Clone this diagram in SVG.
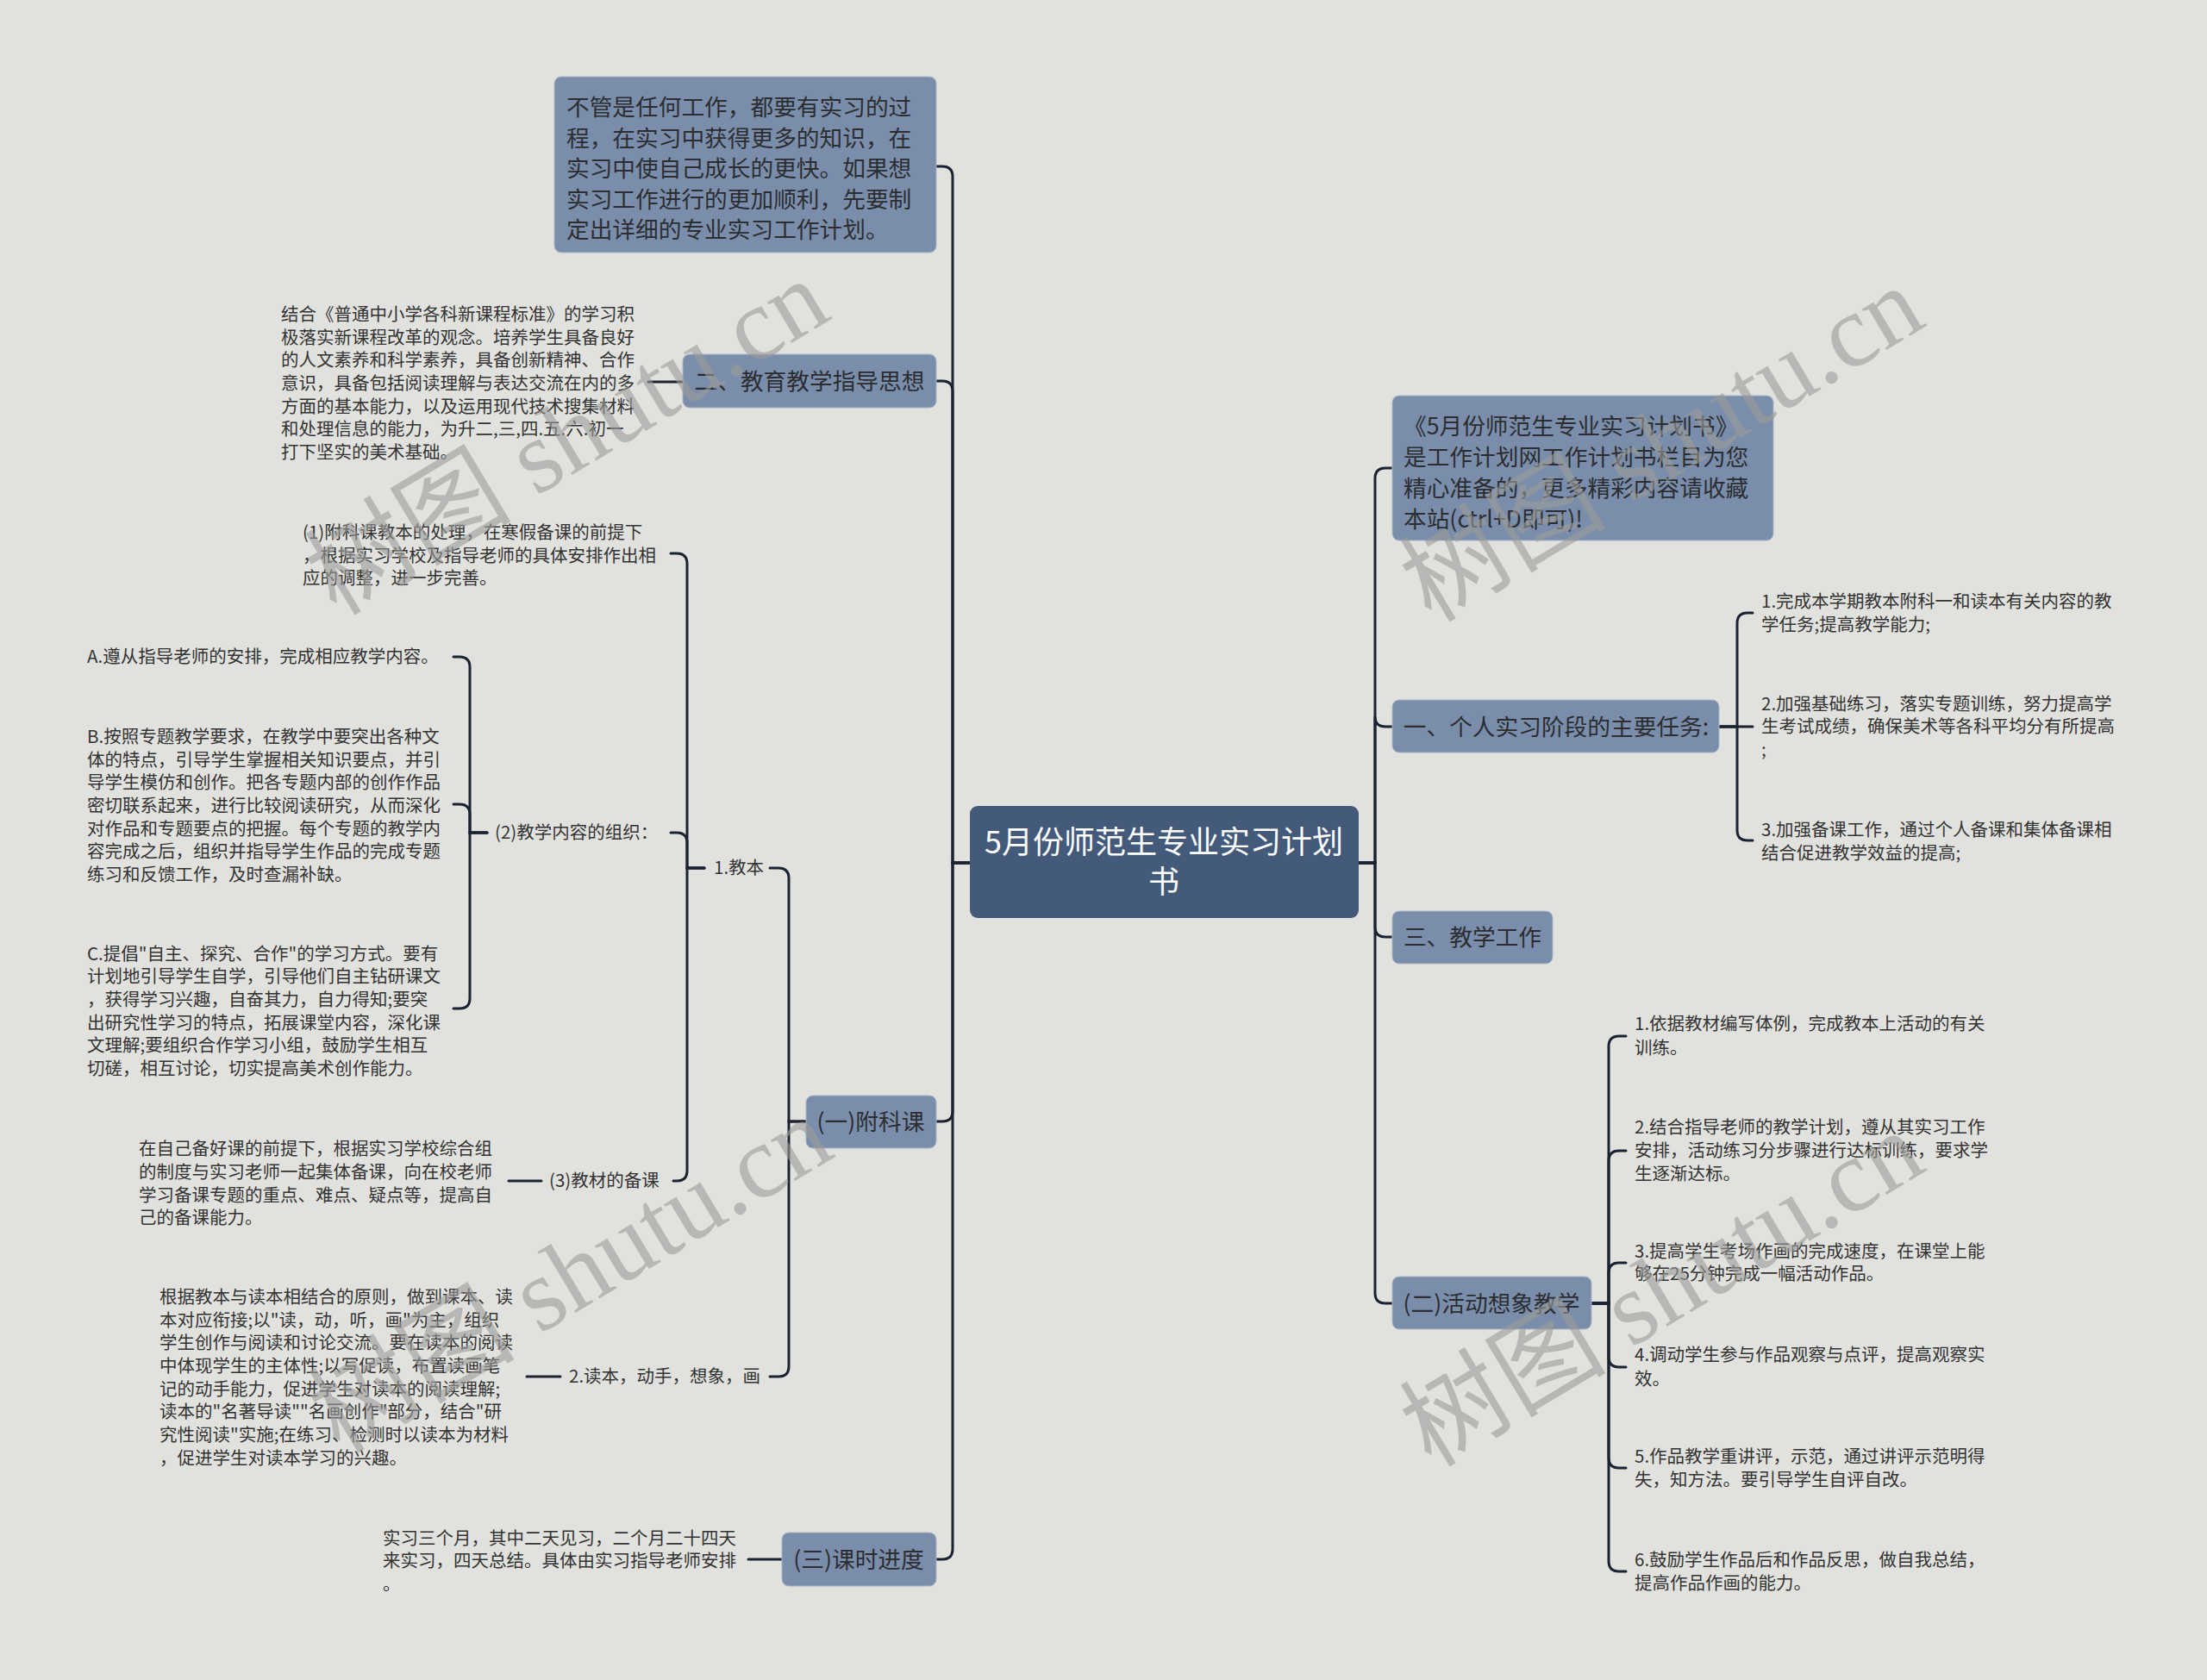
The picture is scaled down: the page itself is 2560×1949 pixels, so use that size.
<svg xmlns="http://www.w3.org/2000/svg" width="2560" height="1949" viewBox="0 0 2560 1949">
<style>
text{font-family:"Noto Sans CJK SC","Noto Sans",sans-serif;}
.bg{fill:#e1e2de;}
.l1{fill:#7a8eab;stroke:#a9b5c7;stroke-width:1;}
.root{fill:#435a7a;}
.t1{font-size:26.7px;fill:#2b2d31;}
.tm{text-anchor:middle;}
.rt{font-size:36px;fill:#ffffff;text-anchor:middle;}
.leaf{font-size:20.5px;fill:#333333;}
.conn path{fill:none;stroke:#1b2231;stroke-width:3;stroke-linecap:round;}
.wm{font-family:"Liberation Serif","Noto Sans CJK SC",serif;font-size:120px;fill:#9c9c9a;opacity:0.6;text-anchor:middle;}
</style>
<rect class="bg" x="0" y="0" width="2560" height="1949"/>

<g class="conn" id="connectors">
<!-- left main spine -->
<path d="M1125,1001 H1105 V205 Q1105,193 1093,193 H1086"/>
<path d="M1125,1001 H1105 V454 Q1105,442 1093,442 H1086"/>
<path d="M1125,1001 H1105 V1289 Q1105,1301 1093,1301 H1086"/>
<path d="M1125,1001 H1105 V1797 Q1105,1809 1093,1809 H1086"/>
<!-- right main spine -->
<path d="M1576,1001 H1595 V555 Q1595,543 1607,543 H1615"/>
<path d="M1576,1001 H1595 V831 Q1595,843 1607,843 H1615"/>
<path d="M1576,1001 H1595 V1075 Q1595,1087 1607,1087 H1615"/>
<path d="M1576,1001 H1595 V1500 Q1595,1512 1607,1512 H1615"/>
<!-- 二、教育教学指导思想 -->
<path d="M792,443 H752"/>
<!-- (一)附科课 -->
<path d="M935,1301 H915 V1019 Q915,1007 903,1007 H893"/>
<path d="M935,1301 H915 V1585 Q915,1597 903,1597 H893"/>
<!-- 1.教本 -->
<path d="M817,1007 H797 V654 Q797,642 785,642 H778"/>
<path d="M817,1007 H797 V978 Q797,966 785,966 H778"/>
<path d="M817,1007 H797 V1358 Q797,1370 785,1370 H781"/>
<!-- (2) -->
<path d="M565,966 H545 V774 Q545,762 533,762 H526"/>
<path d="M565,966 H545 V945 Q545,933 533,933 H526"/>
<path d="M565,966 H545 V1158 Q545,1170 533,1170 H526"/>
<!-- (3) / 2.读本 / (三) -->
<path d="M628,1370 H590"/>
<path d="M650,1597 H611"/>
<path d="M907,1809 H868"/>
<!-- 一、个人实习阶段 -->
<path d="M1994,843 H2015 V723 Q2015,711 2027,711 H2033"/>
<path d="M1994,843 H2033"/>
<path d="M1994,843 H2015 V963 Q2015,975 2027,975 H2033"/>
<!-- (二)活动想象教学 -->
<path d="M1846,1512 H1866 V1214 Q1866,1202 1878,1202 H1886"/>
<path d="M1846,1512 H1866 V1347 Q1866,1335 1878,1335 H1886"/>
<path d="M1846,1512 H1866 V1477 Q1866,1465 1878,1465 H1886"/>
<path d="M1846,1512 H1866 V1574 Q1866,1586 1878,1586 H1886"/>
<path d="M1846,1512 H1866 V1691 Q1866,1703 1878,1703 H1886"/>
<path d="M1846,1512 H1866 V1811 Q1866,1823 1878,1823 H1886"/>
</g>

<g id="root">
<rect class="root" x="1125" y="935" width="451" height="130" rx="9"/>
<text class="rt"><tspan x="1350" y="990">5月份师范生专业实习计划</tspan><tspan x="1350" y="1036">书</tspan></text>
</g>

<g id="intro">
<rect class="l1" x="643" y="89" width="443" height="204" rx="8"/>
<text class="t1"><tspan x="657" y="134">不管是任何工作，都要有实习的过</tspan><tspan x="657" y="170">程，在实习中获得更多的知识，在</tspan><tspan x="657" y="205">实习中使自己成长的更快。如果想</tspan><tspan x="657" y="241">实习工作进行的更加顺利，先要制</tspan><tspan x="657" y="276">定出详细的专业实习工作计划。</tspan></text>
</g>

<g id="n-guide">
<rect class="l1" x="792" y="411" width="294" height="62" rx="8"/>
<text class="t1 tm" x="939" y="452">二、教育教学指导思想</text>
</g>
<g id="n-guide-text">
<text class="leaf"><tspan x="326" y="372">结合《普通中小学各科新课程标准》的学习积</tspan><tspan x="326" y="399">极落实新课程改革的观念。培养学生具备良好</tspan><tspan x="326" y="425">的人文素养和科学素养，具备创新精神、合作</tspan><tspan x="326" y="452">意识，具备包括阅读理解与表达交流在内的多</tspan><tspan x="326" y="479">方面的基本能力，以及运用现代技术搜集材料</tspan><tspan x="326" y="505">和处理信息的能力，为升二,三,四.五.六.初一</tspan><tspan x="326" y="532">打下坚实的美术基础。</tspan></text>
</g>

<g id="n-fuke">
<rect class="l1" x="935" y="1271" width="151" height="61" rx="8"/>
<text class="t1 tm" x="1010" y="1311">(一)附科课</text>
</g>
<g id="n-jiaoben"><text class="leaf" x="828" y="1014">1.教本</text></g>
<g id="n-p1">
<text class="leaf"><tspan x="351" y="625">(1)附科课教本的处理，在寒假备课的前提下</tspan><tspan x="351" y="652">，根据实习学校及指导老师的具体安排作出相</tspan><tspan x="351" y="678">应的调整，进一步完善。</tspan></text>
</g>
<g id="n-p2"><text class="leaf" x="574" y="973">(2)教学内容的组织：</text></g>
<g id="n-pA"><text class="leaf" x="101" y="769">A.遵从指导老师的安排，完成相应教学内容。</text></g>
<g id="n-pB">
<text class="leaf"><tspan x="101" y="862">B.按照专题教学要求，在教学中要突出各种文</tspan><tspan x="101" y="889">体的特点，引导学生掌握相关知识要点，并引</tspan><tspan x="101" y="915">导学生模仿和创作。把各专题内部的创作作品</tspan><tspan x="101" y="942">密切联系起来，进行比较阅读研究，从而深化</tspan><tspan x="101" y="969">对作品和专题要点的把握。每个专题的教学内</tspan><tspan x="101" y="995">容完成之后，组织并指导学生作品的完成专题</tspan><tspan x="101" y="1022">练习和反馈工作，及时查漏补缺。</tspan></text>
</g>
<g id="n-pC">
<text class="leaf"><tspan x="101" y="1114">C.提倡"自主、探究、合作"的学习方式。要有</tspan><tspan x="101" y="1140">计划地引导学生自学，引导他们自主钻研课文</tspan><tspan x="101" y="1167">，获得学习兴趣，自奋其力，自力得知;要突</tspan><tspan x="101" y="1194">出研究性学习的特点，拓展课堂内容，深化课</tspan><tspan x="101" y="1220">文理解;要组织合作学习小组，鼓励学生相互</tspan><tspan x="101" y="1247">切磋，相互讨论，切实提高美术创作能力。</tspan></text>
</g>
<g id="n-p3"><text class="leaf" x="637" y="1377">(3)教材的备课</text></g>
<g id="n-p3-text">
<text class="leaf"><tspan x="161" y="1340">在自己备好课的前提下，根据实习学校综合组</tspan><tspan x="161" y="1367">的制度与实习老师一起集体备课，向在校老师</tspan><tspan x="161" y="1394">学习备课专题的重点、难点、疑点等，提高自</tspan><tspan x="161" y="1420">己的备课能力。</tspan></text>
</g>
<g id="n-duben"><text class="leaf" x="660" y="1604">2.读本，动手，想象，画</text></g>
<g id="n-duben-text">
<text class="leaf"><tspan x="185" y="1512">根据教本与读本相结合的原则，做到课本、读</tspan><tspan x="185" y="1539">本对应衔接;以"读，动，听，画"为主，组织</tspan><tspan x="185" y="1565">学生创作与阅读和讨论交流。要在读本的阅读</tspan><tspan x="185" y="1592">中体现学生的主体性;以写促读，布置读画笔</tspan><tspan x="185" y="1619">记的动手能力，促进学生对读本的阅读理解;</tspan><tspan x="185" y="1645">读本的"名著导读""名画创作"部分，结合"研</tspan><tspan x="185" y="1672">究性阅读"实施;在练习、检测时以读本为材料</tspan><tspan x="185" y="1699">，促进学生对读本学习的兴趣。</tspan></text>
</g>

<g id="n-schedule">
<rect class="l1" x="907" y="1778" width="179" height="62" rx="8"/>
<text class="t1 tm" x="996" y="1819">(三)课时进度</text>
</g>
<g id="n-schedule-text">
<text class="leaf"><tspan x="444" y="1792">实习三个月，其中二天见习，二个月二十四天</tspan><tspan x="444" y="1818">来实习，四天总结。具体由实习指导老师安排</tspan><tspan x="444" y="1845">。</tspan></text>
</g>

<g id="n-note">
<rect class="l1" x="1615" y="459" width="442" height="168" rx="8"/>
<text class="t1"><tspan x="1628" y="504">《5月份师范生专业实习计划书》</tspan><tspan x="1628" y="540">是工作计划网工作计划书栏目为您</tspan><tspan x="1628" y="576">精心准备的，更多精彩内容请收藏</tspan><tspan x="1628" y="612">本站(ctrl+D即可)!</tspan></text>
</g>

<g id="n-tasks">
<rect class="l1" x="1615" y="812" width="379" height="61" rx="8"/>
<text class="t1 tm" x="1805" y="853">一、个人实习阶段的主要任务:</text>
</g>
<g id="n-task1"><text class="leaf"><tspan x="2043" y="705">1.完成本学期教本附科一和读本有关内容的教</tspan><tspan x="2043" y="732">学任务;提高教学能力;</tspan></text></g>
<g id="n-task2"><text class="leaf"><tspan x="2043" y="824">2.加强基础练习，落实专题训练，努力提高学</tspan><tspan x="2043" y="850">生考试成绩，确保美术等各科平均分有所提高</tspan><tspan x="2043" y="877">;</tspan></text></g>
<g id="n-task3"><text class="leaf"><tspan x="2043" y="970">3.加强备课工作，通过个人备课和集体备课相</tspan><tspan x="2043" y="997">结合促进教学效益的提高;</tspan></text></g>

<g id="n-teach">
<rect class="l1" x="1615" y="1057" width="186" height="61" rx="8"/>
<text class="t1 tm" x="1708" y="1097">三、教学工作</text>
</g>

<g id="n-activity">
<rect class="l1" x="1615" y="1481" width="231" height="61" rx="8"/>
<text class="t1 tm" x="1730" y="1522">(二)活动想象教学</text>
</g>
<g id="n-act1"><text class="leaf"><tspan x="1896" y="1195">1.依据教材编写体例，完成教本上活动的有关</tspan><tspan x="1896" y="1223">训练。</tspan></text></g>
<g id="n-act2"><text class="leaf"><tspan x="1896" y="1315">2.结合指导老师的教学计划，遵从其实习工作</tspan><tspan x="1896" y="1342">安排，活动练习分步骤进行达标训练，要求学</tspan><tspan x="1896" y="1369">生逐渐达标。</tspan></text></g>
<g id="n-act3"><text class="leaf"><tspan x="1896" y="1459">3.提高学生考场作画的完成速度，在课堂上能</tspan><tspan x="1896" y="1485">够在25分钟完成一幅活动作品。</tspan></text></g>
<g id="n-act4"><text class="leaf"><tspan x="1896" y="1579">4.调动学生参与作品观察与点评，提高观察实</tspan><tspan x="1896" y="1607">效。</tspan></text></g>
<g id="n-act5"><text class="leaf"><tspan x="1896" y="1697">5.作品教学重讲评，示范，通过讲评示范明得</tspan><tspan x="1896" y="1724">失，知方法。要引导学生自评自改。</tspan></text></g>
<g id="n-act6"><text class="leaf"><tspan x="1896" y="1817">6.鼓励学生作品后和作品反思，做自我总结，</tspan><tspan x="1896" y="1844">提高作品作画的能力。</tspan></text></g>

<g id="watermarks">
<text class="wm" x="657" y="548" transform="rotate(-31 657 506)">树图 shutu.cn</text>
<text class="wm" x="661" y="1520" transform="rotate(-31 661 1478)">树图 shutu.cn</text>
<text class="wm" x="1927" y="556" transform="rotate(-31 1927 514)">树图 shutu.cn</text>
<text class="wm" x="1927" y="1536" transform="rotate(-31 1927 1494)">树图 shutu.cn</text>
</g>
</svg>
